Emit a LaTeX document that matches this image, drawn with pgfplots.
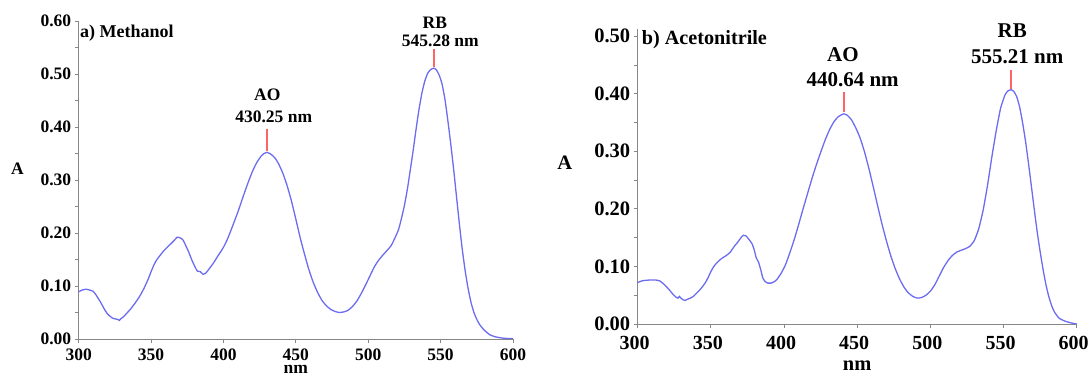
\documentclass[border=0pt]{standalone}
\usepackage{fontspec}
\setmainfont{Liberation Serif}
\usepackage{pgfplots}
\pgfplotsset{compat=1.18}
\definecolor{specblue}{RGB}{108,108,242}
\definecolor{peakred}{RGB}{255,100,100}
\definecolor{axgray}{RGB}{135,135,135}
\pgfplotsset{
  specstyle/.style={
    scale only axis,
    axis lines*=left,
    axis line style={axgray, line width=1.0pt},
    xmin=300, xmax=600, ymin=0,
    xtick={300,350,400,450,500,550,600},
    xticklabels={300,350,400,450,500,550,600},
    tick align=outside,
    major tick length=4pt, minor tick length=4pt,
    tick style={axgray, line width=0.9pt},
    clip=false,
  },
  peakline/.style={color=peakred, line width=2.1pt, no markers},
}
\begin{document}
\begin{tikzpicture}
\path[use as bounding box] (0,0) rectangle (1089pt,375pt);
% ---------- a) Methanol ----------
\begin{axis}[specstyle,
  at={(78.7pt,36pt)}, anchor=south west,
  width=434.3pt, height=318pt,
  ymax=0.6,
  ytick={0,0.1,0.2,0.3,0.4,0.5,0.6},
  yticklabels={0.00,0.10,0.20,0.30,0.40,0.50,0.60},
  minor ytick={0.05,0.15,0.25,0.35,0.45,0.55},
  tick label style={font=\fontsize{17.5}{20}\selectfont\bfseries},
  xticklabel style={inner sep=1pt, yshift=-4.8pt},
  xlabel={nm}, xlabel style={at={(axis description cs:0.5,-0.094)}, anchor=center, inner sep=0pt, font=\fontsize{17.5}{20}\selectfont\bfseries},
  ylabel={A}, ylabel style={at={(axis description cs:-0.141,0.535)}, rotate=-90, anchor=center, font=\fontsize{17.5}{20}\selectfont\bfseries},
]
\addplot[peakline] coordinates {(430.25,0.354)(430.25,0.396)};
\addplot[peakline] coordinates {(545.28,0.513)(545.28,0.547)};
\addplot[color=specblue, line width=1.3pt, smooth, tension=0.3] coordinates {
(300,0.089)(302,0.092)(305,0.094)(308,0.092)(310,0.090)(312,0.083)(315,0.070)(318,0.055)
(320,0.047)(323,0.040)(325,0.038)(327,0.037)(328,0.035)(329,0.038)(331,0.042)(333,0.048)
(336,0.057)(339,0.068)(342,0.080)(345,0.095)(348,0.113)(350,0.127)(352,0.140)(354,0.150)
(356,0.157)(358,0.164)(360,0.170)(363,0.178)(366,0.186)(368,0.192)(370,0.191)(372,0.187)
(374,0.176)(376,0.164)(378,0.150)(380,0.138)(382,0.128)(384,0.127)(386,0.122)(388,0.125)
(390,0.132)(393,0.143)(396,0.156)(400,0.173)(403,0.190)(406,0.211)(410,0.240)(414,0.272)
(417,0.295)(420,0.316)(423,0.333)(426,0.345)(428,0.350)(430.25,0.352)(432,0.350)(434,0.346)
(436,0.340)(438,0.331)(441,0.313)(444,0.289)(447,0.260)(450,0.226)(453,0.191)(456,0.160)
(459,0.131)(462,0.107)(465,0.088)(468,0.073)(471,0.063)(474,0.056)(477,0.052)(480,0.050)
(483,0.051)(486,0.054)(489,0.061)(492,0.071)(495,0.085)(498,0.101)(501,0.118)(504,0.135)
(507,0.148)(510,0.158)(513,0.167)(516,0.177)(519,0.194)(521,0.207)(523,0.228)(525,0.252)
(527,0.282)(529,0.318)(531,0.355)(533,0.395)(535,0.432)(537,0.463)(539,0.486)(541,0.501)
(543,0.508)(545.28,0.511)(547,0.508)(549,0.498)(551,0.481)(553,0.452)(555,0.412)(557,0.368)
(559,0.320)(561,0.268)(563,0.216)(565,0.168)(567,0.128)(569,0.095)(571,0.069)(573,0.050)
(575,0.037)(577,0.027)(580,0.017)(584,0.008)(588,0.004)(592,0.002)(596,0.001)(600,0.001)
};
\node[font=\fontsize{17.5}{20}\selectfont\bfseries, inner sep=0] at (axis cs:430.3,0.460) {AO};
\node[font=\fontsize{17.5}{20}\selectfont\bfseries, inner sep=0] at (axis cs:434.7,0.420) {430.25 nm};
\node[font=\fontsize{17.5}{20}\selectfont\bfseries, inner sep=0] at (axis cs:546,0.597) {RB};
\node[font=\fontsize{17.5}{20}\selectfont\bfseries, inner sep=0] at (axis cs:549.8,0.5625) {545.28 nm};
\node[font=\fontsize{18}{20}\selectfont\bfseries, inner sep=0, anchor=west] at (rel axis cs:0.003,0.961) {a) Methanol};
\end{axis}
% ---------- b) Acetonitrile ----------
\begin{axis}[specstyle,
  at={(637.7pt,51pt)}, anchor=south west,
  width=439pt, height=294.7pt,
  ymax=0.512,
  ytick={0,0.1,0.2,0.3,0.4,0.5},
  yticklabels={0.00,0.10,0.20,0.30,0.40,0.50},
  minor ytick={0.05,0.15,0.25,0.35,0.45},
  yticklabel style={font=\fontsize{20.5}{23}\selectfont\bfseries},
  xticklabel style={font=\fontsize{20}{23}\selectfont\bfseries, xshift=-3pt, yshift=-5pt},
  xlabel={nm}, xlabel style={at={(axis description cs:0.5,-0.143)}, anchor=center, inner sep=0pt, font=\fontsize{20.5}{23}\selectfont\bfseries},
  ylabel={A}, ylabel style={at={(axis description cs:-0.166,0.546)}, rotate=-90, anchor=center, font=\fontsize{20.5}{23}\selectfont\bfseries},
]
\addplot[color=specblue, line width=1.3pt, smooth, tension=0.3] coordinates {
(300,0.072)(303,0.075)(306,0.076)(309,0.0765)(312,0.0765)(315,0.075)(318,0.069)(321,0.061)
(324,0.052)(326,0.047)(327.5,0.045)(328.5,0.048)(329.5,0.045)(331,0.042)(332.5,0.041)(334,0.043)
(336,0.045)(338,0.048)(340,0.053)(342,0.058)(344,0.064)(346,0.071)(348,0.080)(350,0.091)
(352,0.100)(354,0.106)(356,0.111)(358,0.115)(360,0.118)(363,0.124)(366,0.135)(368,0.141)
(370,0.148)(372,0.154)(374,0.153)(376,0.147)(378,0.140)(379.5,0.130)(381,0.115)(382.5,0.108)
(384,0.095)(385.5,0.080)(387,0.074)(389,0.071)(391,0.071)(393,0.073)(395,0.077)(398,0.088)
(401,0.103)(404,0.124)(407,0.147)(410,0.173)(413,0.200)(416,0.226)(419,0.252)(422,0.276)
(425,0.298)(428,0.319)(431,0.337)(434,0.351)(437,0.360)(440.64,0.365)(443,0.363)(446,0.355)
(449,0.341)(452,0.323)(455,0.299)(458,0.270)(461,0.238)(464,0.205)(467,0.173)(470,0.144)
(473,0.118)(476,0.096)(479,0.078)(482,0.064)(485,0.054)(488,0.048)(491,0.045)(494,0.046)
(497,0.050)(500,0.057)(503,0.068)(506,0.083)(509,0.098)(512,0.110)(515,0.119)(518,0.125)
(521,0.128)(524,0.131)(527,0.135)(530,0.145)(533,0.165)(536,0.197)(539,0.240)(542,0.290)
(545,0.336)(548,0.375)(551,0.398)(553,0.405)(555.21,0.407)(557,0.404)(559,0.395)(561,0.377)
(563,0.350)(565,0.318)(567,0.280)(569,0.240)(571,0.199)(573,0.160)(575,0.126)(577,0.095)
(579,0.068)(581,0.047)(583,0.031)(585,0.020)(588,0.010)(592,0.005)(596,0.002)(600,0.000)
};
\addplot[peakline] coordinates {(440.7,0.368)(440.7,0.403)};
\addplot[peakline] coordinates {(555.21,0.409)(555.21,0.442)};
\node[font=\fontsize{21}{23}\selectfont\bfseries, inner sep=0] at (axis cs:440.2,0.468) {AO};
\node[font=\fontsize{21}{23}\selectfont\bfseries, inner sep=0] at (axis cs:446.9,0.4247) {440.64 nm};
\node[font=\fontsize{21}{23}\selectfont\bfseries, inner sep=0] at (axis cs:555.9,0.509) {RB};
\node[font=\fontsize{21}{23}\selectfont\bfseries, inner sep=0] at (axis cs:559.4,0.464) {555.21 nm};
\node[font=\fontsize{20.2}{23}\selectfont\bfseries, inner sep=0, anchor=west] at (rel axis cs:0.009,0.966) {b) Acetonitrile};
\end{axis}
\end{tikzpicture}
\end{document}
